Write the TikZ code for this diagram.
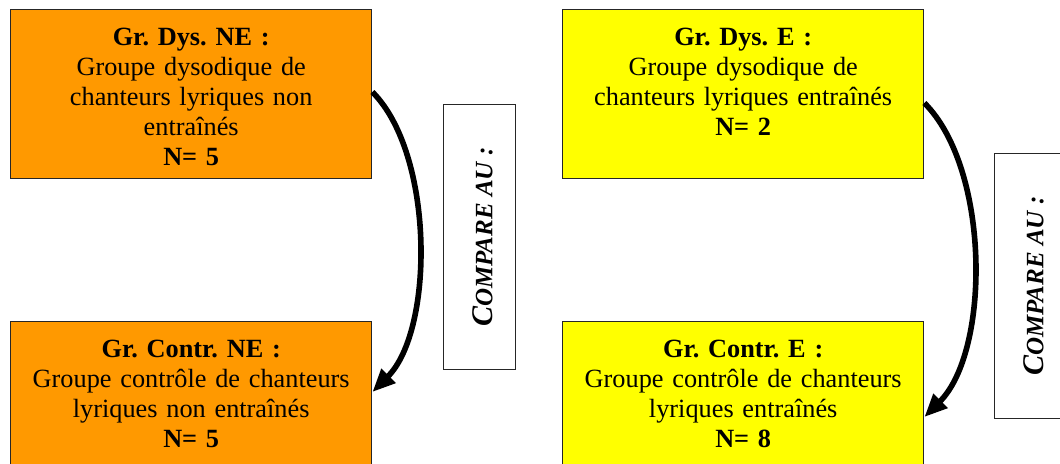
\documentclass[tikz,border=0pt]{standalone}
\usepackage{fontspec}
\setmainfont{Liberation Serif}
\usetikzlibrary{arrows.meta,calc}
\definecolor{orangeNE}{HTML}{FF9900}
\definecolor{yellowE}{HTML}{FFFF00}
\frenchspacing
\newcommand{\comparetext}{{\bfseries\itshape\fontsize{15}{17}\selectfont C\fontsize{12.5}{14}\selectfont OMPARE AU :}}
\begin{document}
\begin{tikzpicture}[x=0.5pt,y=-0.5pt,
  groupbox/.style={draw=black!85,line width=0.7pt,rectangle,inner sep=0pt,anchor=north west,minimum width=180.5pt},
  topbox/.style={groupbox,minimum height=84.5pt},
  botbox/.style={groupbox,minimum height=80pt},
  grouptext/.style={inner sep=0pt,anchor=base,text width=178pt,align=center,font=\fontsize{13.15}{15.1}\selectfont},
  cmpbox/.style={draw=black!85,line width=0.7pt,rectangle,inner sep=0pt,anchor=north west,minimum width=36pt,minimum height=132.5pt,fill=white},
  cmptext/.style={rotate=90,inner sep=0pt},
  conn/.style={line width=2.8pt,-{Triangle[length=11.5pt,width=9.5pt]}}]
\useasboundingbox (0,0) rectangle (1060,463);
\clip (0,0) rectangle (1060,463);
% boxes
\node[topbox,fill=orangeNE] (dysNE) at (10,9) {};
\node[botbox,fill=orangeNE] (contrNE) at (10,321) {};
\node[topbox,fill=yellowE] (dysE) at (562,9) {};
\node[botbox,fill=yellowE] (contrE) at (562,321) {};
\node[cmpbox] (cmp1) at (443,104) {};
\node[cmpbox] (cmp2) at (994,153) {};
% texts
\node[grouptext] (tdysNE) at ($(dysNE.north)+(0,36)$) {\textbf{Gr. Dys. NE :}\\Groupe dysodique de\\chanteurs lyriques non\\entraînés\\\textbf{N= 5}};
\node[grouptext] (tcontrNE) at ($(contrNE.north)+(0,36)$) {\textbf{Gr. Contr. NE :}\\Groupe contrôle de chanteurs\\lyriques non entraînés\\\textbf{N= 5}};
\node[grouptext] (tdysE) at ($(dysE.north)+(0,36)$) {\textbf{Gr. Dys. E :}\\Groupe dysodique de\\chanteurs lyriques entraînés\\\textbf{N= 2}};
\node[grouptext] (tcontrE) at ($(contrE.north)+(0,36)$) {\textbf{Gr. Contr. E :}\\Groupe contrôle de chanteurs\\lyriques entraînés\\\textbf{N= 8}};
\node[cmptext] (tcmp1) at ($(cmp1.center)+(3,0)$) {\comparetext};
\node[cmptext] (tcmp2) at ($(cmp2.center)+(3,0)$) {\comparetext};
% connectors
\coordinate (a1s) at ($(dysNE.north east)+(0,83)$);
\coordinate (a1e) at ($(contrNE.north east)+(0,71)$);
\coordinate (a2s) at ($(dysE.north east)+(0,94)$);
\coordinate (a2e) at ($(contrE.north east)+(0,96)$);
\draw[conn] (a1s) .. controls +(62,62) and +(62,-62) .. (a1e);
\draw[conn] (a2s) .. controls +(66,66) and +(66,-66) .. (a2e);
\end{tikzpicture}
\end{document}
